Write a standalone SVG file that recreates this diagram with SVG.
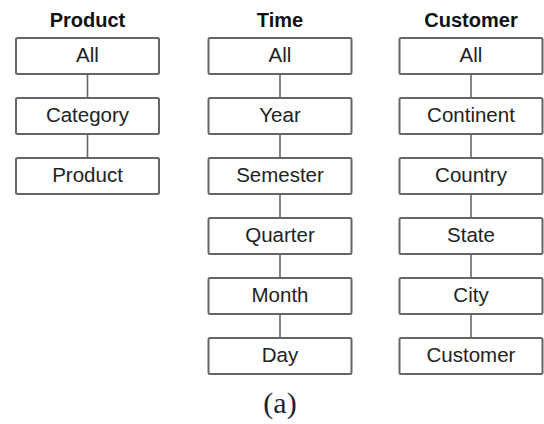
<svg xmlns="http://www.w3.org/2000/svg" width="544" height="424" viewBox="0 0 544 424">
<style>
.box{fill:#fff;stroke:#666;stroke-width:2}
.lbl{font-family:"Liberation Sans",Arial,sans-serif;font-size:20.5px;fill:#222;text-anchor:middle}
.ttl{font-family:"Liberation Sans",Arial,sans-serif;font-size:20px;font-weight:bold;fill:#111;text-anchor:middle}
.con{stroke:#666;stroke-width:1.6;fill:none}
</style>
<rect width="544" height="424" fill="#fff"/>
<g id="connectors">
<line class="con" x1="87.5" y1="74" x2="87.5" y2="98"/>
<line class="con" x1="87.5" y1="134" x2="87.5" y2="158"/>
<line class="con" x1="280" y1="74" x2="280" y2="98"/>
<line class="con" x1="280" y1="134" x2="280" y2="158"/>
<line class="con" x1="280" y1="194" x2="280" y2="218"/>
<line class="con" x1="280" y1="254" x2="280" y2="278"/>
<line class="con" x1="280" y1="314" x2="280" y2="338"/>
<line class="con" x1="471" y1="74" x2="471" y2="98"/>
<line class="con" x1="471" y1="134" x2="471" y2="158"/>
<line class="con" x1="471" y1="194" x2="471" y2="218"/>
<line class="con" x1="471" y1="254" x2="471" y2="278"/>
<line class="con" x1="471" y1="314" x2="471" y2="338"/>
</g>
<g id="titles">
<text class="ttl" x="87.5" y="27">Product</text>
<text class="ttl" x="280" y="27">Time</text>
<text class="ttl" x="471" y="27">Customer</text>
</g>
<g id="product-all"><rect class="box" x="16" y="38" width="143" height="36" rx="1.5"/><text class="lbl" x="87.5" y="62">All</text></g>
<g id="product-category"><rect class="box" x="16" y="98" width="143" height="36" rx="1.5"/><text class="lbl" x="87.5" y="122">Category</text></g>
<g id="product-product"><rect class="box" x="16" y="158" width="143" height="36" rx="1.5"/><text class="lbl" x="87.5" y="182">Product</text></g>
<g id="time-all"><rect class="box" x="208.5" y="38" width="143" height="36" rx="1.5"/><text class="lbl" x="280" y="62">All</text></g>
<g id="time-year"><rect class="box" x="208.5" y="98" width="143" height="36" rx="1.5"/><text class="lbl" x="280" y="122">Year</text></g>
<g id="time-semester"><rect class="box" x="208.5" y="158" width="143" height="36" rx="1.5"/><text class="lbl" x="280" y="182">Semester</text></g>
<g id="time-quarter"><rect class="box" x="208.5" y="218" width="143" height="36" rx="1.5"/><text class="lbl" x="280" y="242">Quarter</text></g>
<g id="time-month"><rect class="box" x="208.5" y="278" width="143" height="36" rx="1.5"/><text class="lbl" x="280" y="302">Month</text></g>
<g id="time-day"><rect class="box" x="208.5" y="338" width="143" height="36" rx="1.5"/><text class="lbl" x="280" y="362">Day</text></g>
<g id="customer-all"><rect class="box" x="399.5" y="38" width="143" height="36" rx="1.5"/><text class="lbl" x="471" y="62">All</text></g>
<g id="customer-continent"><rect class="box" x="399.5" y="98" width="143" height="36" rx="1.5"/><text class="lbl" x="471" y="122">Continent</text></g>
<g id="customer-country"><rect class="box" x="399.5" y="158" width="143" height="36" rx="1.5"/><text class="lbl" x="471" y="182">Country</text></g>
<g id="customer-state"><rect class="box" x="399.5" y="218" width="143" height="36" rx="1.5"/><text class="lbl" x="471" y="242">State</text></g>
<g id="customer-city"><rect class="box" x="399.5" y="278" width="143" height="36" rx="1.5"/><text class="lbl" x="471" y="302">City</text></g>
<g id="customer-customer"><rect class="box" x="399.5" y="338" width="143" height="36" rx="1.5"/><text class="lbl" x="471" y="362">Customer</text></g>
<text x="280" y="413" font-family="'Liberation Serif','Times New Roman',serif" font-size="30" fill="#1e1e32" text-anchor="middle">(a)</text>
</svg>
